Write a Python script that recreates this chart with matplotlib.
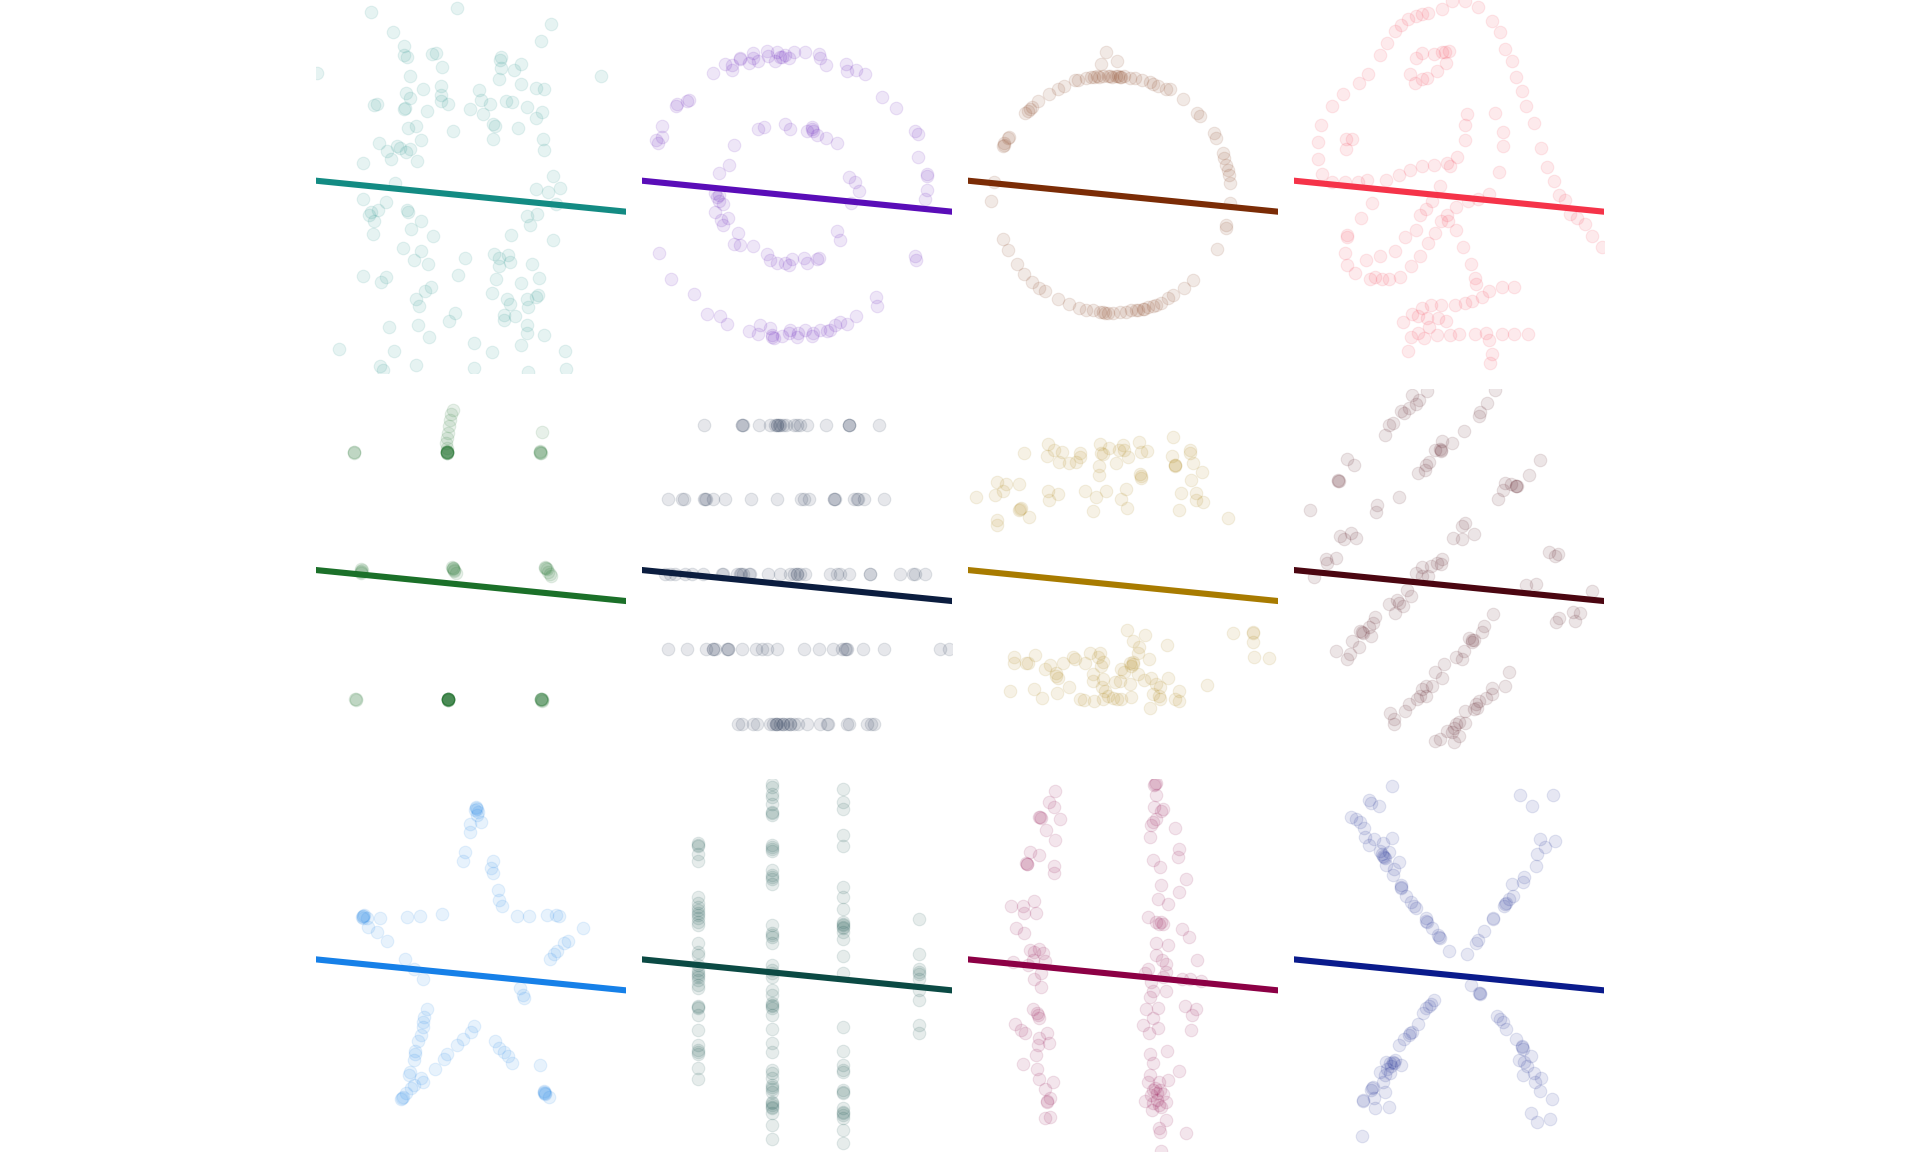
import numpy as np
import matplotlib
matplotlib.use('Agg')
import matplotlib.pyplot as plt

panel_names = ['away', 'bullseye', 'circle', 'dino',
               'dots', 'h_lines', 'high_lines', 'slant_down',
               'star', 'v_lines', 'wide_lines', 'x_shape']
panel_colors = ['#138b83', '#5a0db8', '#7b2c06', '#f53349',
                '#1b7029', '#0b1d3f', '#a87b00', '#4b0611',
                '#1680e8', '#0b4a44', '#8c0045', '#0a1b8c']

# every dataset shares (nearly) the same linear fit
fit_intercept = 53.0
fit_slope = -0.1

x_range = (15.56, 98.29)
y_range = (0.015, 99.69)

away = [(30.2,96.6),(53.3,97.5),(78.2,93.2),(36.0,91.2),(75.6,88.7),(39.1,87.4),(39.1,84.9),(39.8,84.4),
        (46.6,85.2),(47.5,85.5),(49.3,81.9),(64.9,84.6),(64.7,83.7),(64.9,81.5),(68.3,81.0),(70.4,82.5),
        (15.7,80.1),(91.7,79.4),(40.7,79.4),(64.5,78.5),(70.2,77.2),(74.2,76.2),(76.3,76.0),(39.5,74.8),
        (44.0,76.0),(48.9,76.8),(49.0,74.4),(48.9,72.8),(50.7,71.9),(40.7,73.5),(59.1,75.7),(59.7,73.0),
        (62.0,71.9),(31.1,71.7),(31.8,71.9),(39.1,70.6),(39.3,70.8),(45.3,70.1),(56.7,70.6),(60.0,69.2),
        (66.2,72.8),(68.0,72.5),(71.8,71.1),(76.0,69.9),(74.3,68.3),(62.7,66.6),(63.4,66.1),(69.5,65.6),
        (40.0,65.4),(42.3,66.0),(52.2,64.6),(43.5,62.4),(62.9,62.5),(76.1,62.6),(76.3,59.7),(32.4,61.5),
        (34.5,59.5),(35.7,57.3),(37.1,60.6),(38.0,60.3),(39.5,59.2),(40.7,60.0),(42.6,56.7),(28.2,56.1),
        (36.6,50.8),(78.8,52.6),(74.3,49.2),(77.5,48.3),(80.6,49.5),(79.6,45.2),(28.1,46.6),(34.2,45.7),
        (29.6,42.3),(30.2,43.1),(32.2,43.5),(31.1,40.6),(39.8,43.7),(40.2,43.0),(43.5,40.7),(41.0,38.5),
        (30.9,37.3),(46.9,36.8),(72.0,41.9),(74.5,42.5),(72.6,39.5),(67.7,37.0),(78.9,35.5),(38.7,33.4),
        (43.7,32.8),(41.8,30.2),(45.5,29.1),(55.3,30.7),(63.1,31.8),(64.4,30.8),(66.7,31.7),(64.4,28.8),
        (67.4,29.8),(73.2,29.3),(28.0,26.0),(34.2,25.7),(33.0,24.5),(53.5,26.2),(63.6,25.2),(70.4,24.1),
        (75.0,25.4),(46.2,23.0),(44.6,21.9),(42.3,19.9),(43.1,17.9),(62.4,21.4),(66.5,19.9),(67.3,18.6),
        (72.0,19.8),(74.8,21.0),(74.3,20.3),(72.2,17.7),(52.6,16.1),(51.1,14.0),(65.8,15.7),(65.6,14.3),
        (68.6,15.4),(35.0,12.5),(42.9,13.0),(45.8,9.7),(72.0,13.0),(71.8,10.8),(76.4,10.3),(21.8,6.6),
        (36.4,6.0),(57.8,8.1),(62.6,5.6),(70.2,7.6),(82.0,6.1),(32.7,1.9),(33.4,0.8),(42.2,2.2),
        (57.6,1.4),(72.2,0.3),(82.2,1.2)]

bullseye = [(34.6,80.1),(37.8,82.6),(39.5,81.0),(39.5,82.4),(41.6,83.9),(41.8,84.1),(44.0,82.8),(45.3,85.5),
            (46.4,83.5),(48.9,86.2),(49.3,84.8),(51.1,83.3),(51.5,85.9),(52.4,84.6),(53.8,85.0),(54.7,84.1),
            (56.0,85.7),(59.1,85.9),(62.9,85.3),(63.1,84.1),(64.7,82.4),(70.0,82.6),(70.2,80.6),(72.7,81.0),
            (75.1,80.0),(79.6,73.9),(83.3,70.8),(88.4,64.6),(89.1,64.0),(89.1,57.9),(91.6,53.3),(91.7,52.6),
            (91.7,49.0),(91.2,46.6),(88.4,31.4),(88.6,30.3),(78.0,20.3),(78.2,17.9),(72.7,15.2),(70.2,13.3),
            (68.4,13.6),(67.1,13.0),(65.8,11.7),(64.9,11.2),(63.1,11.7),(61.3,10.8),(60.9,9.9),(59.1,11.7),
            (57.3,10.8),(56.9,9.7),(55.1,11.7),(54.7,10.8),(52.9,9.9),(50.7,9.4),(49.8,12.1),(50.2,10.3),
            (47.1,13.0),(46.6,10.6),(44.0,11.2),(38.2,13.3),(36.4,15.2),(32.9,15.9),(29.5,21.3),(23.3,25.3),
            (20.2,32.1),(19.3,62.4),(19.7,61.5),(20.9,63.0),(20.9,66.1),(24.6,71.4),(24.9,72.0),(27.5,72.8),
            (28.0,73.0),(45.3,84.3),(52.9,84.4),(50.2,9.6),
            (46.6,65.2),(48.0,65.7),(53.8,66.5),(55.1,65.2),(59.5,64.8),(60.9,65.9),(61.3,64.8),(62.2,63.7),
            (64.7,62.8),(67.7,61.5),(70.9,52.3),(72.4,51.2),(73.4,48.6),(71.3,45.5),(67.5,38.1),(68.4,35.7),
            (40.0,61.0),(38.9,55.6),(36.0,53.5),(35.1,48.1),(36.2,47.7),(37.1,45.3),(35.1,43.2),(36.6,41.0),
            (38.4,41.4),(37.1,39.7),(41.3,37.4),(40.0,34.6),(41.8,34.3),(45.3,33.9),(48.9,31.8),(49.8,30.2),
            (51.5,29.4),(53.8,29.6),(54.7,29.0),(55.6,30.5),(58.7,30.8),(59.5,29.6),(62.2,30.5),(62.7,30.8),
            (60.9,65.2),(35.5,47.0),(36.0,46.0)]

circle = [(52.4,85.7),(51.1,82.6),(55.3,83.4),(34.3,72.8),(37.1,74.6),(39.5,75.9),(41.3,76.8),(44.0,78.2),
          (44.9,78.4),(47.1,78.8),(48.4,79.1),(49.3,79.2),(50.5,79.2),(51.5,79.4),(52.9,79.4),(54.0,79.2),
          (55.1,79.4),(56.0,79.2),(56.4,79.1),(57.1,79.4),(58.7,78.8),(60.0,78.8),(62.0,78.4),(64.0,77.9),
          (64.9,77.3),(66.2,76.8),(68.4,75.9),(69.5,75.9),(72.9,73.2),(76.6,69.5),(77.5,68.8),(81.3,64.1),
          (81.8,62.8),(83.6,58.8),(84.0,57.5),(84.4,55.7),(84.9,54.3),(85.2,53.0),(85.5,50.8),(85.5,45.5),
          (84.4,39.7),(84.3,38.8),(82.0,33.2),(75.6,24.8),(73.1,22.8),(70.2,21.0),(68.9,20.1),(67.1,18.8),
          (65.8,18.3),(64.9,18.1),(63.5,17.7),(62.2,17.2),(60.4,17.0),(59.1,16.8),(57.8,16.5),(56.0,16.3),
          (54.2,16.1),(52.9,16.1),(51.5,16.3),(50.7,16.5),(48.9,16.8),(47.1,16.8),(45.1,17.4),(42.6,18.6),
          (39.5,19.8),(36.0,21.9),(34.6,22.8),(32.7,24.3),(30.6,26.5),(28.6,29.2),(26.2,33.0),(24.9,35.8),
          (21.6,46.1),(22.6,51.2),(24.9,60.6),(25.3,61.5),(26.5,63.2),(26.2,62.8),(30.9,69.5),(32.2,70.6),
          (32.7,71.0),(50.0,79.3),(53.5,79.3),(55.6,79.3),(62.5,17.3),(61.0,16.9),(52.2,16.2),(25.1,61.0),
          (31.5,70.0)]

dino = [(57.8,99.5),(61.3,99.3),(64.7,97.7),(55.1,97.3),(51.4,96.1),(49.8,96.0),(48.0,95.3),(46.0,94.5),
        (44.0,93.0),(42.5,91.3),(40.4,88.3),(38.4,84.9),(35.4,80.0),(32.9,77.6),(28.7,74.5),(25.8,71.4),
        (22.8,66.4),(21.9,61.8),(21.9,57.2),(23.1,53.3),(25.7,51.0),(29.3,51.1),(32.6,51.2),(35.1,51.7),
        (40.0,51.7),(43.7,53.0),(46.4,54.2),(49.8,55.4),(52.9,55.7),(56.4,56.1),(57.1,55.4),(59.1,57.9),
        (61.1,62.2),(61.3,66.4),(61.6,69.2),(69.1,69.5),(71.3,64.5),(71.3,60.7),(70.3,53.7),(67.7,48.0),
        (64.7,46.5),(62.0,46.1),(58.9,44.4),(56.4,42.3),(54.7,40.6),(56.6,40.6),(54.6,49.9),(52.4,46.1),
        (50.8,44.0),(49.1,42.2),(48.0,38.3),(45.1,36.4),(42.6,32.6),(38.5,31.4),(34.9,30.3),(31.8,26.8),
        (29.6,29.0),(29.3,32.1),(29.6,36.4),(29.7,37.0),(33.4,41.4),(36.4,45.6),(35.8,25.2),(37.3,25.7),
        (39.1,25.3),(40.9,25.2),(43.8,25.7),(46.9,28.7),(49.2,31.4),(51.3,34.9),(53.3,37.6),(58.9,38.3),
        (60.6,33.7),(62.9,29.2),(63.8,25.4),(64.2,23.9),(65.8,20.3),(67.7,22.1),(71.1,23.0),(74.2,23.0),
        (63.1,19.2),(61.3,18.9),(58.5,18.3),(54.8,18.3),(52.2,18.3),(49.6,17.4),(47.1,15.9),(44.6,13.6),
        (48.7,15.2),(51.1,14.8),(54.0,14.8),(56.0,14.1),(51.5,12.5),(48.7,10.9),(46.9,9.7),(50.2,9.4),
        (53.8,10.3),(57.1,10.3),(59.7,10.6),(63.8,10.6),(66.7,10.8),(71.1,10.6),(74.3,10.6),(78.0,10.6),
        (67.7,8.8),(68.3,5.3),(68.0,2.9),(45.9,5.9),(29.5,62.5),(31.1,62.7),(29.5,59.9),(46.6,80.0),
        (47.8,77.6),(49.6,78.5),(51.1,78.8),(53.8,80.8),(56.0,83.0),(55.8,85.9),(56.9,86.2),(55.1,85.9),
        (52.9,85.3),(49.6,85.5),(48.0,84.1),(68.3,94.2),(70.5,91.1),(71.8,86.5),(73.8,83.4),(74.9,79.1),
        (76.4,75.4),(77.5,71.4),(79.6,66.8),(81.6,60.3),(83.2,55.2),(84.9,51.4),(86.2,47.7),(88.0,46.2),
        (89.2,42.5),(91.1,41.4),(93.2,39.9),(95.1,36.7),(97.8,33.7)]

dots = [(25.6,83.0),(25.8,82.9),(25.7,82.8),
        (50.4,83.0),(50.5,82.9),(50.6,82.8),(50.5,83.1),(50.4,82.7),(50.6,83.0),(50.5,82.8),(50.4,82.9),
        (50.6,82.9),(50.5,83.0),
        (52.2,94.3),(51.7,93.0),(51.4,91.5),(51.1,89.9),(50.7,88.1),(50.6,86.8),(50.2,85.4),(50.5,84.1),
        (75.3,83.0),(75.4,82.9),(75.5,82.8),(75.4,83.1),(75.3,82.8),(76.0,88.3),
        (27.5,51.6),(27.7,51.2),(27.5,50.6),(27.8,51.4),(27.6,51.0),
        (51.9,52.3),(52.1,51.9),(52.4,51.4),(52.8,50.7),(52.2,51.6),(52.0,52.0),(52.5,51.1),
        (76.6,52.3),(77.0,51.9),(77.3,51.6),(78.0,50.3),(78.2,49.8),(76.8,52.0),(77.5,51.0),
        (26.1,16.9),(26.2,17.0),(26.3,16.8),
        (50.7,17.0),(50.8,16.9),(50.9,16.8),(50.8,17.1),(50.7,16.8),(50.9,17.0),(50.8,16.9),(50.7,16.9),
        (50.9,16.9),(50.8,16.8),(50.8,17.0),(50.7,17.1),(50.9,16.7),(50.8,16.9),
        (75.6,17.0),(75.7,16.9),(75.8,16.8),(75.7,17.1),(75.6,16.8),(75.8,17.0),(75.7,16.9),(75.8,16.5)]

h_line_levels = [90.1, 70.3, 50.5, 30.3, 10.4]
h_line_xs = [
    [32.2,42.2,42.2,42.6,46.9,49.6,51.1,51.7,51.7,52.0,52.4,53.1,54.0,56.0,56.9,57.8,59.5,64.7,70.7,70.7,70.7,78.7],
    [22.6,26.2,26.8,32.2,32.4,32.7,34.5,37.8,44.6,51.7,57.9,58.7,60.0,66.7,66.7,67.1,72.2,73.0,73.3,74.7,80.2],
    [21.7,23.1,24.4,27.1,28.9,31.8,36.9,37.3,40.9,41.6,42.0,42.6,44.0,44.4,49.3,52.3,55.1,56.2,56.9,56.9,
     57.8,59.1,65.8,67.7,68.3,70.7,76.3,76.4,84.3,88.0,88.4,91.1],
    [22.6,27.7,32.7,34.6,34.6,35.1,38.2,38.6,38.6,42.2,46.0,47.5,48.9,51.7,58.7,62.7,66.5,68.9,69.8,70.0,
     70.2,74.5,80.2,95.1,97.6],
    [41.3,42.2,45.3,46.2,49.8,50.5,51.4,51.4,51.7,52.4,53.3,53.3,54.2,55.0,55.1,56.2,57.3,59.5,63.1,64.9,
     65.3,70.2,70.7,75.6,76.6,77.5],
]

high_lines = [(30.6,82.6),(36.9,85.0),(36.6,81.9),(38.6,83.6),(39.8,80.3),(40.7,82.9),(42.6,80.1),(44.4,80.3),
              (45.5,82.8),(45.5,81.7),(50.8,85.0),(51.1,82.8),(51.7,82.3),(53.1,84.1),(55.1,80.1),(55.8,83.6),
              (56.9,84.7),(57.3,83.6),(58.2,81.7),(61.3,85.6),(61.8,82.9),(63.3,83.2),(50.5,79.2),(50.5,76.7),
              (61.5,77.0),(61.8,76.1),(70.4,87.0),(70.0,82.0),(70.7,79.6),(70.7,79.2),(74.7,83.6),(74.8,82.6),
              (75.6,79.9),(78.0,77.7),(75.1,75.4),(72.4,72.1),(76.4,72.1),(76.4,70.1),(78.2,69.7),(72.0,67.6),
              (84.9,65.4),(17.6,71.0),(22.8,71.6),(23.3,74.9),(25.6,74.3),(24.9,72.5),(29.3,74.3),(29.6,68.1),
              (29.1,67.5),(31.8,65.5),(23.3,64.8),(23.3,63.5),(36.9,72.5),(37.1,70.1),(39.7,71.8),(46.9,72.5),
              (49.8,71.0),(52.4,72.5),(57.8,73.2),(56.4,70.3),(57.9,67.9),(49.0,67.1),(61.6,76.5),(70.7,79.4),
              (29.4,67.8),
              (58.0,35.4),(59.5,32.5),(62.8,34.1),(68.6,31.4),(61.1,30.9),(60.9,29.4),(63.8,27.6),(58.7,26.7),
              (59.5,26.9),(59.1,25.8),(56.4,25.1),(57.3,24.1),(60.9,23.8),(56.0,21.8),(58.7,20.9),(62.4,22.0),
              (64.4,22.5),(68.9,22.5),(65.8,20.9),(66.7,20.3),(66.5,17.8),(64.9,18.3),(66.7,16.9),(64.0,14.7),
              (72.0,19.2),(70.7,16.9),(72.0,16.5),(79.4,20.7),(86.2,34.7),(91.6,34.9),(91.7,32.2),(92.0,28.1),
              (95.8,28.0),(27.8,28.3),(27.8,26.7),(31.1,26.5),(31.5,26.7),(33.5,28.7),(36.0,25.1),(37.5,26.0),
              (39.1,23.9),(39.5,22.7),(40.9,26.5),(43.7,28.3),(44.0,27.6),(46.9,26.7),(48.0,29.2),(50.7,29.2),
              (50.2,28.3),(51.5,26.9),(51.1,25.8),(48.9,23.6),(49.0,21.8),(51.5,22.3),(54.7,21.6),(42.6,20.1),
              (39.4,18.5),(35.4,17.4),(33.3,19.8),(26.9,19.1),(45.5,16.9),(46.6,16.8),(49.3,16.5),(51.5,17.1),
              (52.9,17.8),(54.2,17.4),(55.3,17.1),(56.4,16.9),(59.1,17.6),(52.0,19.2),(51.4,20.1),(91.7,34.7),
              (39.1,23.2),(59.5,26.3)]

slant_down = [(47.1,98.1),(51.1,99.2),(48.9,96.8),(48.0,95.7),(46.2,94.8),(44.0,93.9),(44.9,93.3),(41.9,90.6),
              (40.9,90.1),(39.8,87.4),(69.1,99.5),(67.1,96.1),(65.3,93.6),(64.9,92.5),(60.9,88.7),(57.8,85.4),
              (55.1,85.9),(54.4,83.8),(54.9,83.2),(53.3,83.6),(51.5,80.3),(50.7,79.6),(48.7,77.4),(50.5,78.1),
              (81.2,80.7),(78.4,76.8),(75.1,74.0),(74.7,73.9),(73.6,74.3),(71.8,74.8),(71.3,72.8),(70.0,70.3),
              (29.7,81.2),(31.7,79.6),(27.3,75.4),(27.5,75.2),(43.5,71.0),(37.6,68.7),(37.5,66.9),(19.8,67.5),
              (27.8,60.5),(29.0,59.8),(30.9,61.4),(32.0,60.1),(24.1,54.5),(26.8,54.7),(24.4,53.4),(20.9,49.7),
              (57.9,60.1),(60.3,59.6),(60.3,63.2),(61.3,64.1),(63.5,61.1),(55.1,54.3),(54.7,53.0),(53.8,53.4),
              (52.0,52.5),(49.8,52.3),(48.0,50.6),(49.8,49.9),(51.4,49.9),(46.9,44.5),(45.8,46.1),(43.1,43.4),
              (43.5,42.7),(40.9,42.3),(42.5,40.1),(44.6,41.8),(83.7,56.3),(86.0,55.8),(85.2,55.2),(77.5,47.4),
              (80.2,47.6),(95.1,45.8),(90.0,40.2),(92.0,39.9),(90.5,37.8),(85.5,37.6),(86.4,38.7),(37.3,38.9),
              (36.6,37.2),(35.5,36.3),(33.3,35.2),(33.9,34.6),(36.0,33.7),(31.1,32.5),(32.9,31.0),(26.8,29.8),
              (30.6,28.9),(29.7,27.6),(68.6,39.6),(66.2,36.5),(65.8,34.9),(62.2,33.4),(63.5,32.8),(63.1,32.1),
              (60.9,29.8),(58.7,28.3),(60.4,27.6),(55.5,26.3),(53.3,24.1),(55.1,22.7),(52.4,20.5),(50.7,20.5),
              (49.8,19.6),(49.3,17.8),(50.7,17.8),(48.4,16.9),(46.2,15.6),(45.3,13.8),(41.3,13.4),(42.2,11.8),
              (42.2,10.3),(72.9,24.1),(72.0,20.5),(68.4,20.0),(68.4,18.3),(66.7,17.4),(64.9,16.5),(64.0,15.6),
              (64.4,14.7),(63.5,14.3),(61.3,13.8),(61.3,10.7),(59.5,10.9),(58.7,10.3),(58.2,9.4),(56.4,8.5),
              (57.8,8.1),(59.5,7.2),(53.3,5.8),(54.4,6.3),(58.2,5.4),(27.4,75.3),(54.7,83.6),(74.7,73.9),
              (63.1,32.8),(33.7,34.9)]

star = [(58.2,92.1),(58.2,91.8),(58.4,91.5),(58.0,91.3),(58.7,90.8),(58.5,89.9),(56.7,87.7),(59.7,88.0),
        (56.7,85.5),(55.3,80.0),(54.7,77.6),(62.7,77.6),(62.2,75.9),(62.7,74.4),(64.0,70.1),(64.4,67.4),
        (65.1,65.6),(69.1,63.0),(72.4,63.0),(77.3,63.2),(79.6,63.2),(80.4,63.1),(86.7,59.7),(82.8,56.3),
        (81.8,55.9),(79.8,53.6),(79.1,53.0),(78.0,51.5),(69.9,43.7),(70.7,41.9),(71.1,41.0),(63.3,29.6),
        (64.4,27.7),(65.8,26.8),(66.7,25.7),(68.0,23.9),(75.3,23.2),(76.4,16.1),(76.6,15.9),(76.3,16.3),
        (76.8,15.6),(76.5,15.8),(77.8,14.8),(57.8,33.7),(56.9,32.1),(54.9,30.2),(53.1,28.7),(50.5,26.3),
        (49.6,24.8),(47.3,22.2),(45.1,38.3),(44.4,36.1),(44.0,34.8),(44.0,33.4),(43.5,31.2),(42.8,29.6),
        (41.9,27.0),(41.9,26.1),(41.6,24.6),(40.7,21.4),(40.4,20.6),(43.5,19.7),(44.0,18.8),(41.8,17.9),
        (40.9,17.0),(39.5,15.7),(38.6,14.3),(38.9,14.6),(38.3,14.1),(28.0,63.1),(28.2,62.9),(27.8,62.8),
        (28.4,63.2),(28.0,62.6),(29.1,62.4),(29.5,60.1),(31.8,58.8),(34.5,56.3),(32.7,62.6),(39.8,62.8),
        (43.4,63.1),(49.3,63.5),(39.3,51.5),(41.6,49.0),(44.2,46.2)]

v_line_levels = [30.4, 50.2, 69.3, 89.5]
v_line_ys = [
    [82.4,82.1,81.7,79.7,77.6,68.1,66.4,65.5,64.6,63.7,63.2,62.5,61.5,60.6,55.7,53.5,52.6,49.9,48.6,47.7,
     47.2,46.8,45.9,44.7,43.7,39.1,38.8,38.5,36.6,32.6,28.7,27.2,26.8,26.3,22.5,19.5],
    [98.4,97.5,95.7,94.8,93.0,90.8,90.4,89.9,81.9,81.4,81.0,80.3,75.2,74.1,73.5,73.0,71.7,60.6,58.4,58.0,
     57.5,55.7,49.9,48.6,47.7,46.8,43.2,41.9,39.7,39.3,39.0,38.5,36.6,32.8,29.0,26.8,21.9,21.0,19.7,17.9,
     17.3,16.8,16.1,13.4,13.0,12.5,12.0,11.7,10.3,7.2,3.5],
    [97.0,93.5,91.7,84.6,81.7,70.8,68.1,65.0,61.5,61.0,60.6,60.1,59.7,58.8,57.0,52.4,47.7,33.4,27.0,23.2,
     21.9,21.4,16.5,16.1,15.7,11.7,10.8,10.3,9.9,9.0,5.9,2.3],
    [62.2,53.0,49.0,48.1,47.5,46.2,43.2,40.6,33.9,31.9],
]

wide_lines = [(38.8,96.3),(37.3,93.5),(38.6,92.1),(34.6,89.5),(35.1,89.2),(40.2,89.0),(36.4,85.9),(38.8,83.4),
              (32.2,80.0),(34.5,79.4),(31.1,77.3),(31.3,76.8),(38.4,76.4),(38.5,74.5),(27.1,65.6),(30.2,65.7),
              (33.1,67.1),(30.6,63.7),(33.8,63.9),(28.4,59.7),(30.4,58.6),(32.2,53.9),(34.5,54.3),(33.3,53.5),
              (35.5,53.2),(27.5,50.8),(31.5,49.9),(33.0,51.2),(36.0,51.0),(35.1,47.7),(33.3,46.3),(35.1,44.1),
              (32.9,38.3),(33.9,37.0),(34.6,35.7),(28.2,34.3),(29.7,32.6),(30.9,31.7),(36.6,31.7),(34.6,30.5),
              (37.3,29.0),(34.2,28.6),(33.6,25.9),(30.2,23.4),(33.9,22.3),(34.5,19.4),(38.2,18.8),(36.2,16.8),
              (37.5,14.3),(36.6,13.4),(36.2,9.2),(37.5,9.4),(34.8,89.4),(31.2,77.0),(34.2,36.5),(36.6,13.6),
              (65.6,98.6),(65.3,97.9),(65.6,95.4),(65.3,92.1),(67.5,91.7),(67.1,91.0),(65.8,89.0),(64.4,87.3),
              (64.0,84.0),(70.7,86.4),(72.0,80.8),(71.5,78.8),(64.9,77.9),(66.7,76.1),(73.8,72.8),(67.1,71.4),
              (71.8,69.5),(66.2,67.5),(68.9,66.1),(63.5,62.8),(65.8,61.5),(67.1,61.3),(67.5,60.8),(72.7,59.5),
              (74.5,57.3),(65.6,55.9),(68.9,55.4),(65.6,52.6),(67.4,51.2),(68.4,50.3),(63.5,49.0),(68.4,48.1),
              (67.7,46.8),(64.4,45.5),(62.7,47.9),(72.7,46.2),(74.7,46.3),(77.8,45.6),(76.7,51.2),(64.9,43.0),
              (68.4,43.0),(64.0,41.5),(63.1,38.3),(66.2,38.5),(64.9,35.7),(62.2,33.9),(63.8,31.7),(66.2,33.0),
              (73.6,39.0),(76.4,38.2),(75.4,36.7),(75.1,32.6),(68.6,27.0),(64.0,26.3),(64.9,23.7),(72.0,21.7),
              (64.0,20.7),(66.5,18.6),(68.9,19.2),(63.5,18.6),(64.9,16.5),(66.7,16.5),(64.4,15.2),(67.5,15.4),
              (62.7,13.6),(68.4,13.4),(66.5,12.5),(64.7,11.2),(68.4,8.5),(66.5,6.3),(66.7,5.3),(73.8,5.0),
              (67.1,0.3),(65.5,17.0),(66.0,14.0),(65.0,13.0),(67.0,12.0),(66.0,15.8),(65.5,98.3),(65.0,88.0),
              (66.6,61.0)]

x_shape = [(41.8,97.8),(35.5,93.9),(36.0,93.3),(38.2,92.4),(30.9,89.5),(32.2,88.9),(33.3,88.1),(34.2,86.4),
           (34.6,84.1),(35.7,81.9),(36.9,83.5),(39.3,82.6),(41.6,83.9),(38.6,80.3),(39.3,79.1),(39.8,78.5),
           (40.9,80.1),(43.5,77.5),(40.0,76.6),(42.2,75.7),(41.9,74.1),(44.0,71.2),(44.2,70.4),(45.5,68.4),
           (46.9,66.8),(48.0,65.2),(50.7,62.4),(51.1,61.3),(52.4,59.9),(54.0,57.9),(54.4,57.2),(56.9,53.6),
           (39.0,79.6),(39.5,78.8),(44.1,70.8),(47.5,65.8),(50.9,61.8),(54.2,57.5),
           (76.0,95.3),(79.1,92.3),(84.6,95.4),(81.3,83.7),(85.2,83.0),(82.5,81.5),(80.4,79.7),(80.2,76.4),
           (76.9,73.5),(76.7,72.0),(73.8,71.7),(74.0,68.3),(72.9,67.5),(72.0,66.1),(71.5,65.6),(68.6,62.4),
           (66.2,59.0),(64.7,56.6),(64.2,55.9),(61.8,53.0),(68.6,62.2),(72.2,66.5),
           (52.9,40.7),(52.0,39.4),(50.7,38.5),(49.9,37.0),(48.7,34.3),(46.6,31.7),(46.2,31.2),(44.9,30.3),
           (43.5,28.6),(42.6,24.6),(41.3,23.9),(42.2,23.7),(40.0,24.1),(44.0,23.2),(40.4,22.3),(38.6,21.4),
           (39.8,20.6),(41.3,21.0),(39.3,18.6),(36.6,17.4),(36.2,16.5),(39.8,16.1),(36.9,14.3),(37.1,11.7),
           (33.9,13.6),(40.9,12.1),(33.8,4.4),(51.5,38.9),(47.0,32.0),(42.0,24.0),(36.5,17.0),(34.0,13.8),
           (41.5,23.0),
           (62.9,44.7),(64.9,42.6),(65.3,42.2),(69.8,36.4),(71.3,34.6),(72.2,32.8),(74.7,30.3),(76.3,28.4),
           (76.6,27.5),(78.9,25.7),(75.6,24.6),(77.8,23.0),(76.6,20.7),(79.6,21.0),(79.8,18.8),(81.6,19.7),
           (81.3,16.3),(84.4,14.1),(78.7,10.3),(80.4,8.1),(84.0,8.8),(65.1,42.4),(70.5,35.5),(76.4,28.0),
           (77.0,24.0)]

h_lines = [(x, y) for y, xs in zip(h_line_levels, h_line_xs) for x in xs]
v_lines = [(x, y) for x, ys in zip(v_line_levels, v_line_ys) for y in ys]

datasets = {
    'away': away, 'bullseye': bullseye, 'circle': circle, 'dino': dino,
    'dots': dots, 'h_lines': h_lines, 'high_lines': high_lines, 'slant_down': slant_down,
    'star': star, 'v_lines': v_lines, 'wide_lines': wide_lines, 'x_shape': x_shape,
}

fig, axes = plt.subplots(3, 4, figsize=(19.2, 11.52), dpi=100)
fig.subplots_adjust(left=316 / 1920, right=1604 / 1920, bottom=0, top=1,
                    wspace=16 / 310, hspace=16 / 373)

line_x = np.array(x_range)
for ax, name, color in zip(axes.flat, panel_names, panel_colors):
    pts = np.array(datasets[name])
    ax.scatter(pts[:, 0], pts[:, 1], s=82, color=color, alpha=0.1, linewidths=0.8)
    ax.plot(line_x, fit_intercept + fit_slope * line_x, color=color, lw=4.4)
    ax.set_xlim(x_range)
    ax.set_ylim(y_range)
    ax.axis('off')

fig.savefig('out.png', dpi=100)
